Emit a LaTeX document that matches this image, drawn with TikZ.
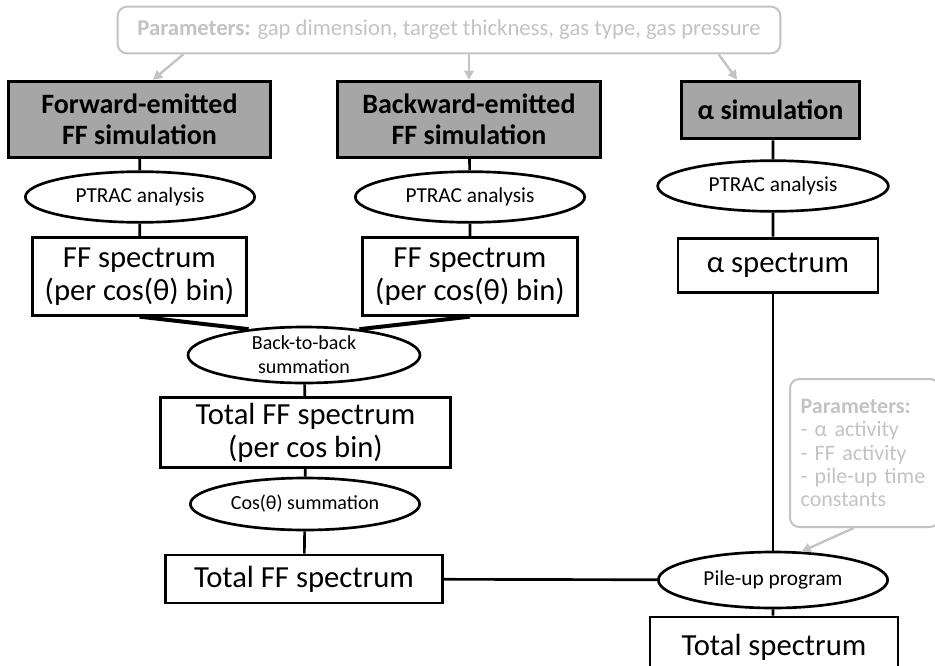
\documentclass[tikz,border=0pt]{standalone}
\usepackage{fontspec}
\setmainfont{Carlito}
\usetikzlibrary{arrows.meta,shapes.geometric}
\definecolor{simgray}{RGB}{166,166,166}
\definecolor{pargray}{RGB}{195,195,195}
\begin{document}
\begin{tikzpicture}[x=0.75pt,y=-0.75pt,
  simbox/.style={draw,fill=simgray,line width=2.4pt,inner sep=0pt,align=center,
    font=\fontsize{21}{23}\selectfont\bfseries},
  specbox/.style={draw,line width=2.2pt,inner sep=0pt,align=center,
    font=\fontsize{23}{25}\selectfont},
  procell/.style={ellipse,draw,line width=2pt,inner sep=0pt,align=center,
    font=\fontsize{16}{18}\selectfont},
  parbox/.style={draw=pargray,text=pargray,rounded corners=7pt,line width=1.5pt,inner sep=0pt},
  link/.style={line width=2pt},
  pararrow/.style={draw=pargray,line width=1.8pt,-{Triangle[length=7pt,width=7pt]}}]
\useasboundingbox (0,0) rectangle (935,665);
% parameters
\node[parbox,minimum width=497pt,minimum height=35pt,font=\fontsize{17}{19}\selectfont]
  (toppar) at (449,30) {\textbf{Parameters:} gap dimension, target thickness, gas type, gas pressure};
\node[parbox,minimum height=111pt,align=left,anchor=north west,inner xsep=8pt,
  font=\fontsize{16.5}{17.5}\selectfont,text width=96pt] (pilepar) at (789,378)
  {\textbf{Parameters:}\\ - α activity\\ - FF activity\\ - pile-up time\\ constants};
% simulations
\node[simbox,minimum width=197pt,minimum height=57pt] (fwd) at (139.5,119.5) {Forward-emitted\\FF simulation};
\node[simbox,minimum width=197pt,minimum height=57pt] (bwd) at (469,119.5) {Backward-emitted\\FF simulation};
\node[simbox,minimum width=133pt,minimum height=43pt] (asim) at (770.5,110) {α simulation};
% PTRAC
\node[procell,minimum width=172pt,minimum height=38pt] (fwdpt) at (140,197) {PTRAC analysis};
\node[procell,minimum width=172pt,minimum height=38pt] (bwdpt) at (470,197) {PTRAC analysis};
\node[procell,minimum width=173pt,minimum height=38pt] (apt) at (773,186) {PTRAC analysis};
% spectra
\node[specbox,minimum width=161pt,minimum height=58pt] (fwdsp) at (139.5,276.5) {FF spectrum\\(per cos(θ) bin)};
\node[specbox,minimum width=161pt,minimum height=58pt] (bwdsp) at (470,276.5) {FF spectrum\\(per cos(θ) bin)};
\node[specbox,minimum width=150pt,minimum height=41pt] (asp) at (778,265.5) {α spectrum};
% summations
\node[procell,minimum width=174pt,minimum height=42pt,font=\fontsize{15}{18}\selectfont] (b2b) at (304,355) {Back-to-back\\summation};
\node[specbox,minimum width=218pt,minimum height=52pt] (totbin) at (305.5,432.5) {Total FF spectrum\\(per cos bin)};
\node[procell,minimum width=172pt,minimum height=39pt,font=\fontsize{15}{18}\selectfont] (cossum) at (305,504) {Cos(θ) summation};
\node[specbox,minimum width=208pt,minimum height=36pt] (totff) at (304,579) {Total FF spectrum};
\node[procell,minimum width=172pt,minimum height=42pt] (pile) at (773,580) {Pile-up program};
\node[specbox,minimum width=186pt,minimum height=45pt] (tot) at (774,647) {Total spectrum};
% connectors
\draw[link] (fwd) -- (fwdpt) (fwdpt) -- (fwdsp)
  (bwd) -- (bwdpt) (bwdpt) -- (bwdsp)
  (asim.south -| apt.north) -- (apt) (apt) -- (apt |- asp.north)
  (b2b) -- (totbin) (totbin) -- (cossum) (cossum) -- (totff)
  (totff) -- (pile) (pile) -- (pile |- tot.north);
\draw[link,line width=3pt] (fwdsp.south) -- (b2b.155) (bwdsp.south) -- (b2b.25);
\draw[link] (asp.south -| pile.north) -- (pile.north);
% parameter arrows
\draw[pararrow] ([xshift=50]toppar.south west) -- ([xshift=10]fwd.north);
\draw[pararrow] (toppar.south -| bwd.north) -- (bwd.north);
\draw[pararrow] ([xshift=-47]toppar.south east) -- ([xshift=-25]asim.north);
\draw[pararrow] ([xshift=-65]pilepar.south east) -- (pile.45);
\end{tikzpicture}
\end{document}
